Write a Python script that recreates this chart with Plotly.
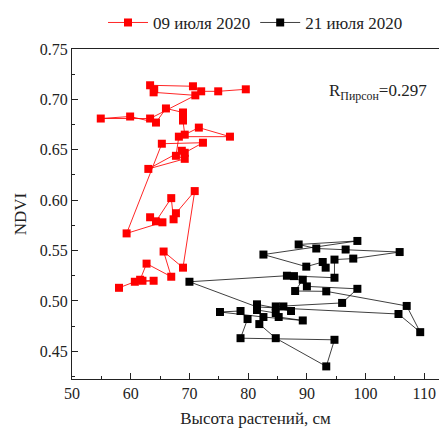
import plotly.graph_objects as go

# 09 июля 2020 (red)
red_height = [58.0, 60.7, 63.9, 62.0, 61.6, 62.7, 66.9, 65.6, 68.9, 70.9,
              67.7, 67.3, 66.9, 64.3, 63.3, 65.4, 59.3, 65.3, 72.3, 69.2,
              68.7, 63.0, 69.2, 67.7, 68.2, 76.9, 71.6, 69.2, 68.9, 68.9,
              68.9, 66.0, 64.3, 59.9, 54.9, 63.3, 71.0, 63.9, 64.0, 63.3,
              70.6, 72.0, 74.9, 79.6]
red_ndvi = [0.513, 0.519, 0.520, 0.520, 0.521, 0.537, 0.524, 0.549, 0.533, 0.609,
            0.587, 0.581, 0.602, 0.579, 0.583, 0.578, 0.567, 0.656, 0.657, 0.647,
            0.649, 0.631, 0.641, 0.644, 0.663, 0.663, 0.672, 0.665, 0.679, 0.683,
            0.687, 0.691, 0.677, 0.683, 0.681, 0.681, 0.704, 0.707, 0.710, 0.714,
            0.713, 0.708, 0.708, 0.710]

# 21 июля 2020 (black)
black_height = [93.2, 92.7, 89.9, 82.6, 98.6, 88.6, 91.6, 96.6, 105.8, 97.9,
                94.7, 94.7, 86.6, 70.0, 81.5, 105.6, 109.3, 107.0, 93.3, 88.0,
                89.3, 87.8, 90.0, 98.6, 96.0, 84.7, 86.0, 87.3, 81.5, 81.5,
                84.7, 85.2, 89.3, 82.6, 75.2, 78.7, 79.9, 78.7, 94.7, 93.3,
                84.7, 81.9]
black_ndvi = [0.533, 0.5386, 0.534, 0.546, 0.5595, 0.556, 0.552, 0.551, 0.5485, 0.542,
              0.541, 0.523, 0.525, 0.519, 0.494, 0.487, 0.469, 0.495, 0.5095, 0.5098,
              0.521, 0.5246, 0.5144, 0.512, 0.498, 0.4945, 0.4945, 0.490, 0.4966, 0.491,
              0.488, 0.484, 0.4806, 0.484, 0.489, 0.490, 0.482, 0.463, 0.4614, 0.435,
              0.463, 0.477]

x_ticks = [50, 60, 70, 80, 90, 100, 110]
y_ticks = [0.45, 0.50, 0.55, 0.60, 0.65, 0.70, 0.75]

FONT = "Liberation Serif"

fig = go.Figure()
fig.add_trace(go.Scatter(
    x=red_height, y=red_ndvi, mode="lines+markers", name="09 июля 2020",
    line=dict(color="rgba(255,0,0,0.85)", width=1),
    marker=dict(symbol="square", size=8, color="#ff0000"),
))
fig.add_trace(go.Scatter(
    x=black_height, y=black_ndvi, mode="lines+markers", name="21 июля 2020",
    line=dict(color="rgba(0,0,0,0.75)", width=1),
    marker=dict(symbol="square", size=8, color="#000000"),
))

fig.add_annotation(
    text="R<sub>Пирсон</sub>=0.297", xref="paper", yref="paper",
    x=0.695, y=0.87, xanchor="left", yanchor="middle", showarrow=False,
    font=dict(family=FONT, size=17, color="#222"),
)

fig.update_layout(
    width=439, height=429,
    margin=dict(l=72, r=0, t=49, b=50, autoexpand=False),
    paper_bgcolor="white", plot_bgcolor="white",
    font=dict(family=FONT, size=16, color="#222"),
    showlegend=True,
    legend=dict(orientation="h", x=0.5, xanchor="center", y=1.079, yanchor="middle",
                font=dict(family=FONT, size=17, color="#222"),
                bgcolor="rgba(0,0,0,0)", itemwidth=40),
    xaxis=dict(
        range=[50, 112.5], tickvals=x_ticks, ticks="inside", ticklen=6,
        tickcolor="#222", showline=True, linecolor="#222", linewidth=1.2, mirror=True,
        showgrid=False, zeroline=False,
        minor=dict(dtick=5, tick0=50, ticks="inside", ticklen=3, tickcolor="#222", showgrid=False),
        title=dict(text="Высота растений, см", font=dict(family=FONT, size=17), standoff=10),
        tickfont=dict(family=FONT, size=16),
    ),
    yaxis=dict(
        range=[0.4225, 0.75], tickvals=y_ticks, tickformat=".2f", ticks="inside", ticklen=6,
        tickcolor="#222", showline=True, linecolor="#222", linewidth=1.2,
        showgrid=False, zeroline=False,
        minor=dict(dtick=0.025, tick0=0.45, ticks="inside", ticklen=3, tickcolor="#222", showgrid=False),
        title=dict(text="NDVI", font=dict(family=FONT, size=17), standoff=8),
        tickfont=dict(family=FONT, size=16),
    ),
)

fig.write_html("out.html",
               config={"displayModeBar": False},
               post_script="document.body.style.margin='0';document.body.style.padding='0';"
                           "document.body.style.overflow='hidden';")
